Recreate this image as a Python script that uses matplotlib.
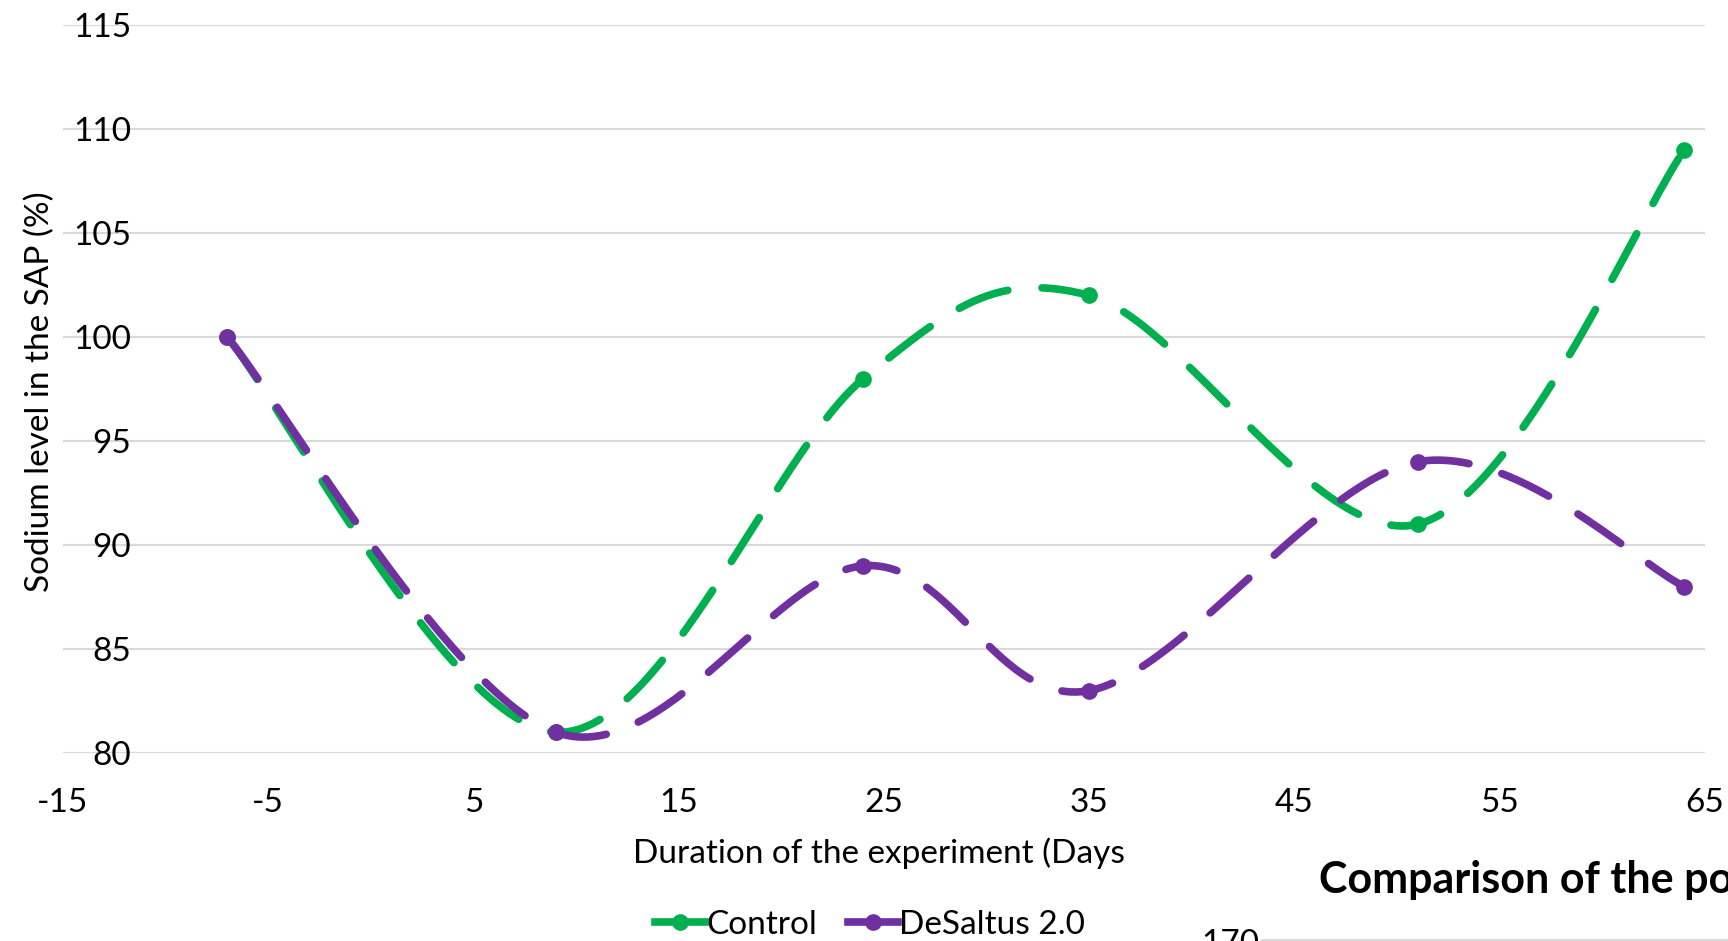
import numpy as np
import matplotlib
matplotlib.use("Agg")
import matplotlib.pyplot as plt
from matplotlib.lines import Line2D

# data
days = [-7, 9, 24, 35, 51, 64]
control = [100, 81, 98, 102, 91, 109]
desaltus = [100, 81, 89, 83, 94, 88]
x_ticks = [-15, -5, 5, 15, 25, 35, 45, 55, 65]
y_ticks = [80, 85, 90, 95, 100, 105, 110, 115]

GREEN = "#00B050"
PURPLE = "#7030A0"

plt.rcParams["font.family"] = ["Lato", "DejaVu Sans"]
plt.rcParams["axes.unicode_minus"] = False
FS = 24


def smooth(xs, ys, n=60):
    # Excel-like smoothed line: cubic Bezier with Catmull-Rom control points
    p = np.column_stack([xs, ys]).astype(float)
    pts = [p[0]] + list(p) + [p[-1]]
    out = []
    for i in range(1, len(pts) - 2):
        p0, p1, p2, p3 = pts[i - 1], pts[i], pts[i + 1], pts[i + 2]
        c1 = p1 + (p2 - p0) / 6
        c2 = p2 - (p3 - p1) / 6
        t = np.linspace(0, 1, n)[:, None]
        seg = ((1 - t) ** 3 * p1 + 3 * (1 - t) ** 2 * t * c1
               + 3 * (1 - t) * t ** 2 * c2 + t ** 3 * p2)
        out.append(seg if i == 1 else seg[1:])
    out = np.vstack(out)
    return out[:, 0], out[:, 1]


fig = plt.figure(figsize=(17.28, 9.41), dpi=100)
ax = fig.add_axes([63 / 1728, 1 - 753 / 941, (1705 - 63) / 1728, (753 - 25) / 941])

dash = (0, (6.8, 4.5))
for ys, col in [(control, GREEN), (desaltus, PURPLE)]:
    sx, sy = smooth(days, ys)
    ax.plot(sx, sy, color=col, lw=5.5, linestyle=dash, dash_capstyle="round",
            solid_capstyle="round", zorder=3)
    ax.plot(days, ys, "o", color=col, ms=11, zorder=4)

ax.set_xlim(-15, 65)
ax.set_ylim(80, 115)
ax.set_xticks(x_ticks)
ax.set_yticks(y_ticks)
ax.grid(axis="y", color="#D9D9D9", lw=1.5, zorder=0)
ax.set_axisbelow(True)
for s in ax.spines.values():
    s.set_visible(False)
ax.tick_params(axis="both", length=0, labelsize=FS)
ax.tick_params(axis="y", pad=-49)
ax.tick_params(axis="x", pad=25)
for lab in ax.get_yticklabels():
    lab.set_zorder(5)

fig.text(40 / 1728, 1 - 392 / 941, "Sodium level in the SAP (%)", rotation=90,
         ha="center", va="center", fontsize=FS)
fig.text(879 / 1728, 1 - 853 / 941, "Duration of the experiment (Days",
         ha="center", va="center", fontsize=FS)

handles = [Line2D([], [], color=GREEN, lw=5.5, marker="o", ms=11),
           Line2D([], [], color=PURPLE, lw=5.5, marker="o", ms=11)]
fig.legend(handles, ["Control", "DeSaltus 2.0"], loc="center",
           bbox_to_anchor=(870 / 1728, 1 - 925 / 941), ncol=2, frameon=False,
           fontsize=FS, handlelength=1.5, handletextpad=0.05, columnspacing=0.9,
           borderpad=0)

# part of the next chart, cut off at the edge of the image
fig.text(1319 / 1728, 1 - 893 / 941, "Comparison of the po",
         ha="left", va="baseline", fontsize=31, fontweight="bold")
fig.text(1201 / 1728, 1 - 944 / 941, "170", ha="left", va="center", fontsize=FS)
fig.add_artist(Line2D([1262 / 1728, 1], [1 - 940 / 941] * 2, color="#D9D9D9", lw=1.5))

fig.savefig("out.png", dpi=100)
